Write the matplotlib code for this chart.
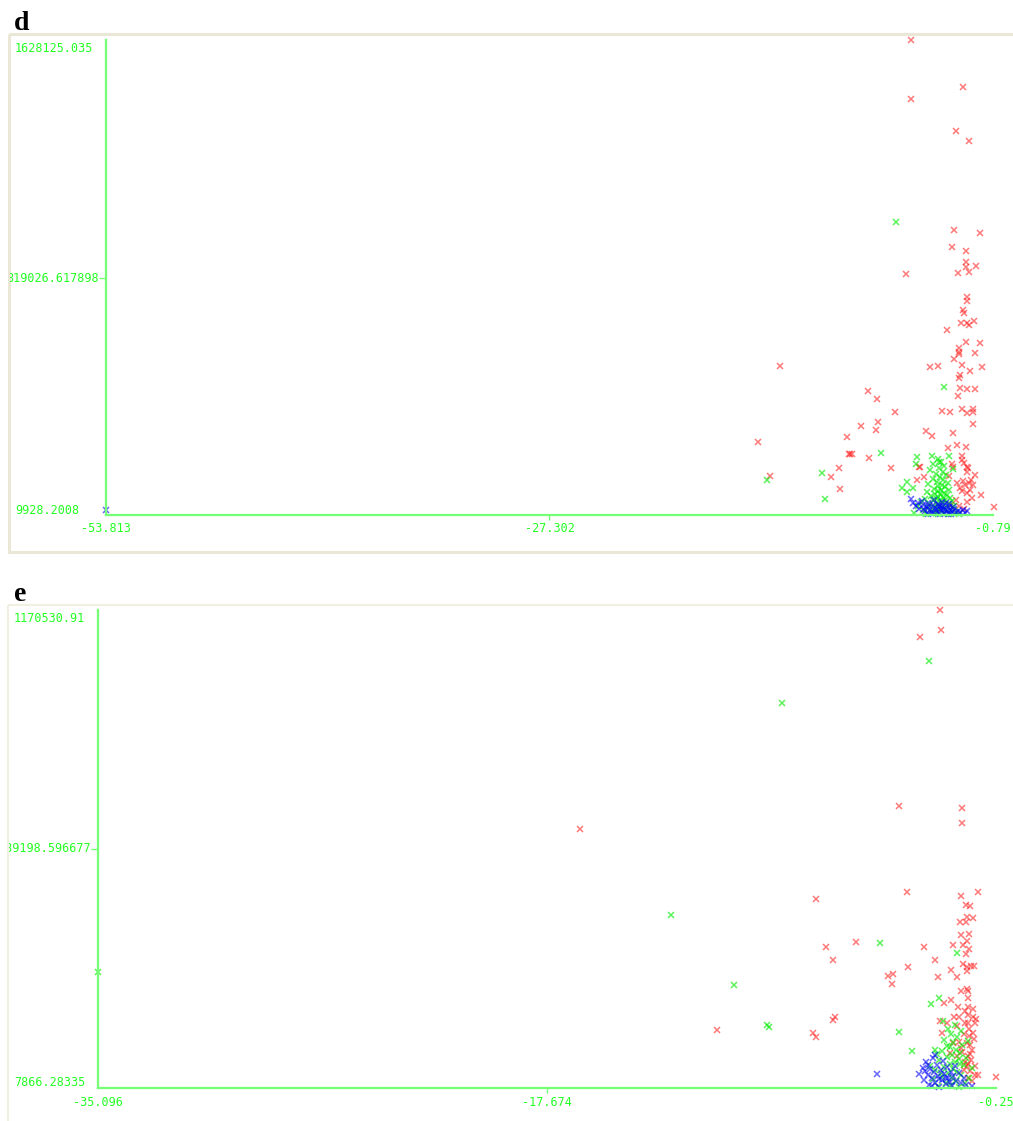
import numpy as np
import matplotlib
matplotlib.use("Agg")
import matplotlib.pyplot as plt
from matplotlib.patches import Rectangle
from matplotlib.transforms import Affine2D, Bbox

# ---------------- DATA (x values, y values in thousands) ----------------
# Panel d
d_x_ticks = [-53.813, -27.302, -0.79]
d_x_labels = ["-53.813", "-27.302", "-0.79"]
d_y_ticks = [9928.2008, 819026.617898, 1628125.035]
d_y_labels = ["9928.2008", "819026.617898", "1628125.035"]

d_red_x = [-5.67, -2.57, -5.67, -2.98, -2.25, -3.10, -1.58, -3.22, -2.39, -2.39, -2.43, -1.82,
           -2.86, -2.25, -5.97, -2.33, -2.33, -2.57, -2.51, -2.72, -2.37, -2.21, -1.94, -3.54,
           -2.43, -1.58, -2.84, -2.80, -2.80, -1.85, -3.10, -13.52, -4.57, -4.08, -2.63, -1.47,
           -2.18, -2.76, -2.80, -2.74, -2.37, -1.88, -2.86, -8.28, -7.72, -6.65, -3.84, -3.34,
           -2.63, -2.37, -2.00, -2.00, -2.00, -7.66, -8.70, -7.80, -4.81, -4.44, -3.16, -9.50,
           -14.86, -3.46, -2.92, -2.43, -9.42, -9.32, -9.22, -8.20, -2.63, -2.63, -2.55, -2.37,
           -2.37, -2.31, -3.26, -3.16, -5.21, -9.98, -6.89, -14.12, -10.47, -1.88, -2.12, -3.42,
           -5.31, -2.96, -2.57, -2.47, -1.97, -2.17, -2.76, -2.37, -2.06, -2.37, -1.51, -9.92,
           -0.75, -5.16, -4.90, -3.00, -2.80, -3.30, -2.50, -2.20, -2.65]
d_red_y = [1628.125, 1467, 1428, 1318, 1283, 981, 972, 923, 909, 871, 856, 857,
           835, 839, 830, 752, 739, 708, 697, 665, 663, 656, 672, 641,
           600, 597, 578, 566, 558, 562, 540, 518, 513, 516, 520, 514,
           499, 487, 476, 444, 438, 440, 416, 433, 405, 361, 365, 361,
           370, 356, 370, 361, 319, 326, 312, 298, 296, 278, 288, 275,
           258, 237, 249, 241, 219, 219, 219, 205, 211, 197, 186, 174,
           157, 169, 184, 174, 172, 171, 170, 143, 139, 146, 129, 142,
           128, 118, 127, 111, 111, 95, 101, 84, 67, 55, 77, 97,
           38, 174, 140, 60, 40, 45, 30, 120, 90]

d_green_x = [-6.57, -3.72, -7.49, -11.01, -14.30, -10.83, -4.44, -4.02, -3.42, -5.36, -5.39, -3.16,
             -4.10, -3.90, -4.35, -3.70, -4.00, -4.55, -3.80, -4.20, -3.60, -3.95, -4.40, -3.75,
             -4.15, -3.50, -4.65, -3.85, -4.05, -3.65, -4.30, -6.25, -5.55, -5.95, -5.95, -3.90,
             -3.45, -4.10, -4.75, -3.70, -4.25, -3.95, -3.55, -4.50, -4.05, -3.80, -3.35, -4.85,
             -4.15, -3.65, -4.40, -3.90, -3.25, -5.10, -4.20, -3.75, -4.60, -3.50, -4.00, -3.15,
             -5.30, -4.30, -3.85, -4.70, -3.60, -4.10, -3.30, -5.00, -4.45, -3.90, -3.00, -4.20,
             -3.70, -4.80, -3.45, -4.05, -2.85, -5.50]
d_green_y = [1009, 447, 222, 153, 128, 63, 212, 189, 210, 209, 184, 168,
             200, 192, 185, 178, 170, 163, 158, 150, 146, 140, 134, 128,
             124, 120, 116, 112, 108, 104, 100, 101, 101, 123, 89, 96,
             94, 90, 88, 86, 82, 80, 78, 76, 72, 70, 68, 66,
             64, 62, 60, 58, 56, 54, 52, 50, 48, 46, 44, 42,
             40, 38, 36, 34, 32, 30, 28, 26, 24, 22, 20, 18,
             16, 14, 13, 12, 14, 18]

d_blue_x = [-53.813, -5.71, -5.55, -5.40, -5.20, -5.05, -4.95, -4.85, -4.75, -4.65, -4.55, -4.50,
            -4.40, -4.30, -4.25, -4.15, -4.10, -4.00, -3.95, -3.90, -3.85, -3.80, -3.70, -3.65,
            -3.60, -3.55, -3.50, -3.45, -3.40, -3.35, -3.25, -3.20, -3.10, -3.00, -2.90, -2.75,
            -2.60, -2.45, -4.60, -4.20, -3.75, -5.30, -4.90, -4.35, -3.95, -4.70, -3.30, -2.37]
d_blue_y = [27, 64, 50, 40, 30, 58, 45, 22, 36, 52, 28, 16,
            44, 60, 33, 20, 48, 38, 12, 26, 55, 42, 18, 32,
            50, 24, 14, 38, 46, 28, 20, 36, 30, 16, 24, 20,
            26, 18, 40, 26, 30, 52, 30, 18, 42, 12, 12, 22]

# Panel e
e_x_ticks = [-35.096, -17.674, -0.25]
e_x_labels = ["-35.096", "-17.674", "-0.25"]
e_y_ticks = [7866.28335, 589198.596677, 1170530.91]
e_y_labels = ["7866.28335", "589198.596677", "1170530.91"]

e_red_x = [-2.42, -2.38, -3.21, -4.00, -1.58, -1.58, -16.38, -3.69, -1.62, -0.95, -7.22, -1.40,
           -1.27, -1.65, -1.41, -1.39, -1.15, -1.62, -1.31, -6.86, -5.67, -3.06, -1.91, -1.52,
           -1.39, -1.30, -1.43, -6.56, -3.65, -2.62, -1.52, -1.39, -1.23, -1.10, -1.39, -4.45,
           -4.23, -4.29, -2.50, -2.00, -1.75, -1.62, -1.39, -1.35, -1.35, -2.27, -1.98, -1.71,
           -1.35, -1.15, -1.45, -1.87, -1.67, -1.32, -1.13, -1.03, -1.06, -1.32, -1.45, -1.77,
           -6.50, -6.56, -11.06, -7.34, -7.22, -2.42, -2.35, -2.16, -1.49, -1.29, -1.39, -1.26,
           -1.67, -1.62, -1.32, -1.22, -1.39, -1.26, -1.06, -0.94, -1.32, -1.19, -1.91, -2.03,
           -1.77, -0.24, -1.20, -1.10, -1.45, -1.55, -1.30, -1.05, -1.25, -1.50, -1.35, -1.15]
e_red_y = [1170.531, 1122, 1104, 694, 689, 652, 637, 483, 473, 483, 468, 453,
           451, 411, 411, 422, 421, 378, 382, 351, 361, 351, 354, 354,
           364, 344, 334, 319, 301, 319, 309, 302, 303, 303, 292, 279,
           284, 261, 277, 294, 277, 244, 248, 244, 225, 214, 222, 204,
           204, 198, 193, 180, 180, 185, 180, 175, 164, 165, 164, 157,
           180, 172, 147, 141, 130, 169, 141, 165, 138.5, 132.6, 116.6, 112.4,
           118, 104.4, 84, 76, 59.7, 47.5, 39.5, 39.5, 31.5, 23, 116.6, 92,
           84, 33.9, 100, 125, 70, 95, 150, 60, 90, 50, 66, 140]

e_green_x = [-35.096, -12.85, -8.56, -2.86, -10.43, -9.12, -9.05, -4.76, -4.01, -3.52, -2.62, -1.75,
             -2.46, -2.78, -2.30, -1.85, -2.10, -1.60, -2.00, -1.75, -2.25, -1.90, -1.55, -2.05,
             -1.80, -2.35, -1.65, -1.95, -2.15, -1.70, -2.45, -1.85, -2.05, -1.50, -2.25, -1.90,
             -2.60, -1.75, -2.10, -1.60, -2.35, -1.95, -2.70, -1.80, -2.20, -1.45, -2.00, -2.50,
             -1.70, -1.30, -1.20, -1.40, -2.80, -2.55, -1.35, -2.15, -1.65, -2.40]
e_green_y = [290, 428.6, 944.9, 1047, 256.7, 160.4, 155.5, 360, 143.3, 97.9, 100.3, 336.2,
             225, 212, 170, 160, 150, 145, 138, 130, 124, 118, 112, 106,
             100, 96, 92, 88, 82, 78, 74, 70, 66, 62, 58, 54,
             50, 46, 42, 38, 34, 30, 28, 24, 20, 18, 14, 12,
             10, 30, 55, 80, 60, 90, 120, 110, 66, 44]

e_blue_x = [-4.88, -1.19, -3.25, -3.10, -3.05, -2.95, -2.90, -2.85, -2.80, -2.75, -2.70, -2.65,
            -2.60, -2.55, -2.50, -2.45, -2.40, -2.35, -2.30, -2.25, -2.20, -2.15, -2.10, -2.05,
            -2.00, -1.95, -1.90, -1.85, -1.80, -1.70, -1.60, -1.50, -1.40, -2.62, -2.88, -3.00,
            -2.48, -2.72, -2.20]
e_blue_y = [41.2, 11, 40, 55, 25, 70, 38, 15, 52, 30, 80, 45,
            20, 62, 35, 10, 50, 26, 72, 40, 16, 58, 32, 22,
            46, 12, 36, 60, 24, 42, 18, 30, 14, 88, 62, 48,
            28, 12, 30]

# ---------------- FIGURE ----------------
W, H = 1013, 1121
fig = plt.figure(figsize=(W / 100, H / 100), dpi=100)
fig.patch.set_facecolor("white")
pix = Affine2D().scale(1.0 / W, -1.0 / H).translate(0, 1) + fig.transFigure

AXIS_COL = "#74ff74"
TXT_COL = "#22ff22"
MONO = "DejaVu Sans Mono"
FS = 8.5

panels = [
    dict(letter="d", letter_xy=(14, 30), frame=(8.5, 33.5, 1030, 551.5), frame_col="#ebe7d6", frame_lw=2.2,
         clip=(10, 35, 1013, 550),
         box=(106, 40, 993, 515), xt=d_x_ticks, xl=d_x_labels, yt=d_y_ticks, yl=d_y_labels,
         ylab_y=(510, 278, 48), ylab_x=15, ymid_right=99, xlab_y=529,
         red=(d_red_x, d_red_y), green=(d_green_x, d_green_y), blue=(d_blue_x, d_blue_y)),
    dict(letter="e", letter_xy=(14, 601), frame=(8.0, 604.5, 1030, 1140), frame_col="#f1eee2", frame_lw=1.5,
         clip=(9, 605, 1013, 1121),
         box=(98, 610, 996, 1087.5), xt=e_x_ticks, xl=e_x_labels, yt=e_y_ticks, yl=e_y_labels,
         ylab_y=(1083, 849, 619), ylab_x=14, ymid_right=91, xlab_y=1102,
         red=(e_red_x, e_red_y), green=(e_green_x, e_green_y), blue=(e_blue_x, e_blue_y)),
]

for p in panels:
    # frame
    x0, y0, x1, y1 = p["frame"]
    fig.patches.append(Rectangle((x0, y0), x1 - x0, y1 - y0, transform=pix, fill=False,
                                 edgecolor=p["frame_col"], linewidth=p["frame_lw"], zorder=0))
    fig.text(p["letter_xy"][0], p["letter_xy"][1], p["letter"], transform=pix,
             fontfamily="Liberation Serif", fontweight="bold", fontsize=20, color="black",
             ha="left", va="baseline")

    l, t, r, b = p["box"]
    ax = fig.add_axes([l / W, 1 - b / H, (r - l) / W, (b - t) / H])
    ax.set_xlim(p["xt"][0], p["xt"][-1])
    ax.set_ylim(p["yt"][0], p["yt"][-1])
    ax.patch.set_visible(False)
    for s in ("top", "right"):
        ax.spines[s].set_visible(False)
    for s in ("left", "bottom"):
        ax.spines[s].set_color(AXIS_COL)
        ax.spines[s].set_linewidth(1.6)
    ax.set_xticks([p["xt"][1]])
    ax.set_yticks([p["yt"][1]])
    ax.set_xticklabels([])
    ax.set_yticklabels([])
    ax.tick_params(axis="x", direction="out", length=3.5, width=1, color=AXIS_COL)
    ax.tick_params(axis="y", direction="out", length=5, width=1, color=AXIS_COL)

    rx, ry = p["red"]
    gx, gy = p["green"]
    bx, by = p["blue"]
    ax.plot(rx, np.asarray(ry) * 1000, "x", ms=4.5, mew=1.1, color="#ff2020", alpha=0.6, clip_on=False)
    ax.plot(gx, np.asarray(gy) * 1000, "x", ms=4.5, mew=1.1, color="#00ee00", alpha=0.65, clip_on=False)
    ax.plot(bx, np.asarray(by) * 1000, "x", ms=4.5, mew=1.1, color="#0000ff", alpha=0.6, clip_on=False)

    cx0, cy0, cx1, cy1 = p["clip"]
    clipbox = Bbox.from_extents(cx0, H - cy1, cx1, H - cy0)

    # y labels
    yb, ym, ytop = p["ylab_y"]
    fig.text(p["ylab_x"], ytop, p["yl"][2], transform=pix, fontfamily=MONO, fontsize=FS,
             color=TXT_COL, ha="left", va="center")
    fig.text(p["ylab_x"], yb, p["yl"][0], transform=pix, fontfamily=MONO, fontsize=FS,
             color=TXT_COL, ha="left", va="center")
    tm = fig.text(p["ymid_right"], ym, p["yl"][1], transform=pix, fontfamily=MONO, fontsize=FS,
                  color=TXT_COL, ha="right", va="center")
    tm.set_clip_box(clipbox)
    tm.set_clip_on(True)

    # x labels
    xs = [l, (l + r) / 2, r]
    for xp, lab in zip(xs, p["xl"]):
        fig.text(xp, p["xlab_y"], lab, transform=pix, fontfamily=MONO, fontsize=FS,
                 color=TXT_COL, ha="center", va="center")

fig.savefig("out.png", dpi=100, facecolor="white")
